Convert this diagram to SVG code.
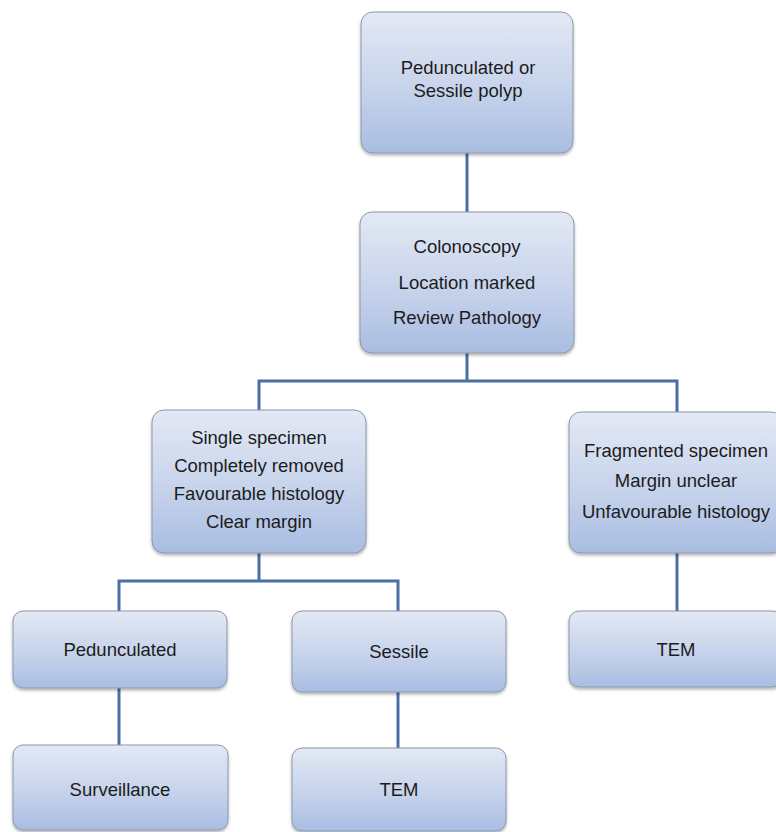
<svg xmlns="http://www.w3.org/2000/svg" width="776" height="832" viewBox="0 0 776 832">
<defs>
<linearGradient id="g" x1="0" y1="0" x2="0" y2="1">
<stop offset="0" stop-color="#e3e9f5"/>
<stop offset="0.5" stop-color="#c9d5ec"/>
<stop offset="1" stop-color="#a9bde2"/>
</linearGradient>
<filter id="sh" x="-10%" y="-10%" width="120%" height="125%">
<feDropShadow dx="0" dy="2" stdDeviation="1.5" flood-color="#000" flood-opacity="0.3"/>
</filter>
</defs>
<style>
.box{fill:url(#g);stroke:#8d97aa;stroke-width:1;filter:url(#sh)}
.t{font-family:"Liberation Sans",Arial,sans-serif;font-size:18.5px;fill:#1c1c1c;text-anchor:middle}
.c{fill:none;stroke:#4a6ea6;stroke-width:3}
</style>
<rect width="776" height="832" fill="#fff"/>
<g id="connectors">
<path class="c" d="M467 153V212"/>
<path class="c" d="M467 353V381M259 410V381H677V412"/>
<path class="c" d="M259 553V581M119 611V581H398V611"/>
<path class="c" d="M677 553V611"/>
<path class="c" d="M119 688V745"/>
<path class="c" d="M398 692V748"/>
</g>
<g id="n-polyp">
<rect class="box" x="361" y="12" width="212" height="141" rx="12"/>
<text class="t" x="468" y="74">Pedunculated or</text>
<text class="t" x="468" y="97">Sessile polyp</text>
</g>
<g id="n-colonoscopy">
<rect class="box" x="360" y="212" width="214" height="141" rx="12"/>
<text class="t" x="467" y="253">Colonoscopy</text>
<text class="t" x="467" y="289">Location marked</text>
<text class="t" x="467" y="324">Review Pathology</text>
</g>
<g id="n-single">
<rect class="box" x="152" y="410" width="214" height="143" rx="12"/>
<text class="t" x="259" y="444">Single specimen</text>
<text class="t" x="259" y="472">Completely removed</text>
<text class="t" x="259" y="500">Favourable histology</text>
<text class="t" x="259" y="528">Clear margin</text>
</g>
<g id="n-fragmented">
<rect class="box" x="569" y="412" width="214" height="141" rx="12"/>
<text class="t" x="676" y="457">Fragmented specimen</text>
<text class="t" x="676" y="487">Margin unclear</text>
<text class="t" x="676" y="518">Unfavourable histology</text>
</g>
<g id="n-pedunculated">
<rect class="box" x="13" y="611" width="214" height="77" rx="10"/>
<text class="t" x="120" y="656">Pedunculated</text>
</g>
<g id="n-sessile">
<rect class="box" x="292" y="611" width="214" height="81" rx="10"/>
<text class="t" x="399" y="658">Sessile</text>
</g>
<g id="n-tem-right">
<rect class="box" x="569" y="611" width="214" height="76" rx="10"/>
<text class="t" x="676" y="656">TEM</text>
</g>
<g id="n-surveillance">
<rect class="box" x="13" y="745" width="215" height="85" rx="10"/>
<text class="t" x="120" y="796">Surveillance</text>
</g>
<g id="n-tem-bottom">
<rect class="box" x="292" y="748" width="214" height="83" rx="10"/>
<text class="t" x="399" y="796">TEM</text>
</g>
</svg>
